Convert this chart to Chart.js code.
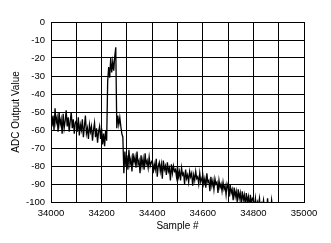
<!DOCTYPE html>
<html>
<head>
<meta charset="utf-8">
<script src="https://cdn.jsdelivr.net/npm/chart.js@4/dist/chart.umd.min.js"></script>
<style>
html,body{margin:0;padding:0;background:#fff;}
#c{display:block;}
</style>
</head>
<body>
<canvas id="c" width="331" height="243"></canvas>
<script>
// Sample numbers: evenly spaced sample index axis
const sampleStart = 34000;
const sampleStep = 4;
// ADC output values (one per sampleStep samples)
const adcValues = [
  -49, -58, -52, -60, -48, -56, -53, -61, -50, -57, -54, -62, -51, -59, -55, -49, -58, -53, -61, -55, -50, -59, -54, -62, -56,
  -55, -61, -53, -63, -57, -60, -54, -64, -58, -52, -62, -59, -65, -57, -61, -58, -66, -60, -56, -64, -59, -67, -61, -58, -65,
  -59, -68, -62, -69, -60, -66,
  -33, -25, -31, -20, -28, -22, -27, -19, -14,
  -59, -52, -57, -53, -58, -62, -64,
  -84, -72, -80, -74, -82, -71, -79, -76, -83, -73, -78, -75, -81, -72, -79, -77, -84, -74, -80, -76, -82, -73, -79, -77, -81, -75, -80, -78,
  -77, -84, -79, -82, -76, -86, -80, -78, -83, -79, -87, -77, -82, -80, -85, -78, -83, -81, -88, -79, -84, -80, -83, -82, -86,
  -80, -86, -83, -88, -81, -85, -84, -90, -82, -87, -85, -89, -83, -86, -84, -91, -85, -88, -83, -87, -86, -90, -84, -89, -87,
  -85, -90, -87, -92, -84, -89, -88, -94, -86, -91, -88, -93, -87, -90, -89, -95, -88, -92, -90, -94, -89, -93, -91, -96, -90,
  -92, -97, -90, -95, -93, -99, -92, -97, -94, -100, -93, -98, -95, -101, -94, -99, -96, -102, -95, -100, -97, -103, -96, -101, -98,
  -99, -103, -98, -104, -100, -102, -98, -105, -101, -103, -99, -104, -102, -105, -98, -104, -103, -105, -99, -104, -101
];
const xTickLabels = [34000, 34200, 34400, 34600, 34800, 35000];
const yTickLabels = [0, -10, -20, -30, -40, -50, -60, -70, -80, -90, -100];

const points = adcValues.map((v, i) => ({x: sampleStart + i * sampleStep, y: v}));

const tickFont = {family: '"Liberation Sans", Arial, sans-serif', size: 9.5};
const titleFont = {family: '"Liberation Sans", Arial, sans-serif', size: 10};

new Chart(document.getElementById('c'), {
  type: 'line',
  data: {
    datasets: [{
      data: points,
      borderColor: '#000',
      borderWidth: 1.3,
      pointRadius: 0,
      tension: 0,
      fill: false
    }]
  },
  options: {
    responsive: false,
    animation: false,
    devicePixelRatio: 1,
    layout: {padding: {top: 22, right: 27, left: 0, bottom: 0}},
    plugins: {legend: {display: false}, tooltip: {enabled: false}},
    scales: {
      x: {
        type: 'linear',
        min: 34000,
        max: 35000,
        afterFit: s => { s.height = 41; },
        grid: {color: '#000', lineWidth: 1, drawTicks: false},
        border: {color: '#000', width: 1},
        ticks: {
          stepSize: 100,
          autoSkip: false,
          maxRotation: 0,
          padding: 6,
          color: '#000',
          font: tickFont,
          callback: v => xTickLabels.includes(v) ? String(v) : ''
        },
        title: {display: true, text: 'Sample #', color: '#000', font: titleFont, padding: {top: 0, bottom: 11}}
      },
      y: {
        min: -100,
        max: 0,
        afterFit: s => { s.width = 51; },
        grid: {color: '#000', lineWidth: 1, drawTicks: false},
        border: {color: '#000', width: 1},
        ticks: {
          stepSize: 10,
          autoSkip: false,
          padding: 6,
          color: '#000',
          font: tickFont,
          callback: v => yTickLabels.includes(v) ? String(v) : ''
        },
        title: {display: true, text: 'ADC Output Value', color: '#000', font: titleFont, padding: {top: 10, bottom: 0}}
      }
    }
  }
});
</script>
</body>
</html>
